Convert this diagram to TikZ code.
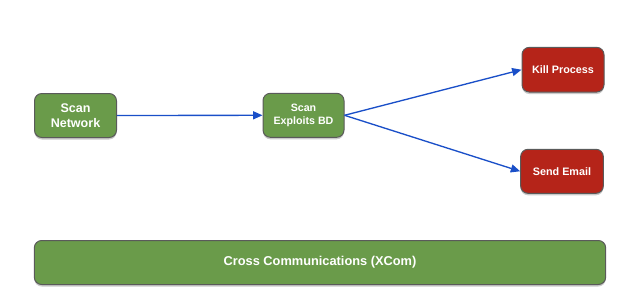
\documentclass[tikz,border=0pt]{standalone}
\usepackage{fontspec}
\setmainfont{Liberation Sans}
\usetikzlibrary{shadows,arrows.meta}
\definecolor{boxgreen}{HTML}{6A9B4A}
\definecolor{boxred}{HTML}{B52419}
\definecolor{boxborder}{HTML}{5A5A5A}
\definecolor{arrowblue}{HTML}{1A4FC8}
\tikzset{
  box/.style={draw=boxborder, line width=0.75pt, rounded corners=5.5pt, inner sep=0pt,
    text=white, align=center, font=\bfseries,
    drop shadow={shadow xshift=0pt, shadow yshift=-1.5pt, opacity=0.35, fill=black!60}},
  greenbox/.style={box, fill=boxgreen},
  redbox/.style={box, fill=boxred},
  conn/.style={draw=arrowblue, line width=1pt, -{Triangle[length=7pt,width=6pt]}}
}
\begin{document}
\begin{tikzpicture}[x=0.75pt,y=-0.75pt]
\useasboundingbox (0,0) rectangle (640,307);
\node[greenbox, minimum width=61.5pt, minimum height=33pt, font=\bfseries\fontsize{9.4}{11.6}\selectfont] (sn) at (75.5,115.5) {Scan\\Network};
\node[greenbox, minimum width=60.75pt, minimum height=33pt, font=\bfseries\fontsize{8}{9.3}\selectfont] (se) at (303.5,115.3) {Scan\\Exploits BD};
\node[redbox, minimum width=61.5pt, minimum height=33.5pt, font=\bfseries\fontsize{8.1}{9.5}\selectfont] (kp) at (563,69.7) {Kill Process};
\node[redbox, minimum width=62pt, minimum height=33pt, font=\bfseries\fontsize{8.1}{9.5}\selectfont] (em) at (562,171.3) {Send Email};
\node[greenbox, minimum width=428.5pt, minimum height=33pt, font=\bfseries\fontsize{9.6}{11.5}\selectfont] (xc) at (320,262.5) {Cross Communications (XCom)};
\draw[conn] (sn.east) -- (se.west);
\draw[conn] (se.east) -- (kp.west);
\draw[conn] (se.east) -- (em.west);
\end{tikzpicture}
\end{document}
